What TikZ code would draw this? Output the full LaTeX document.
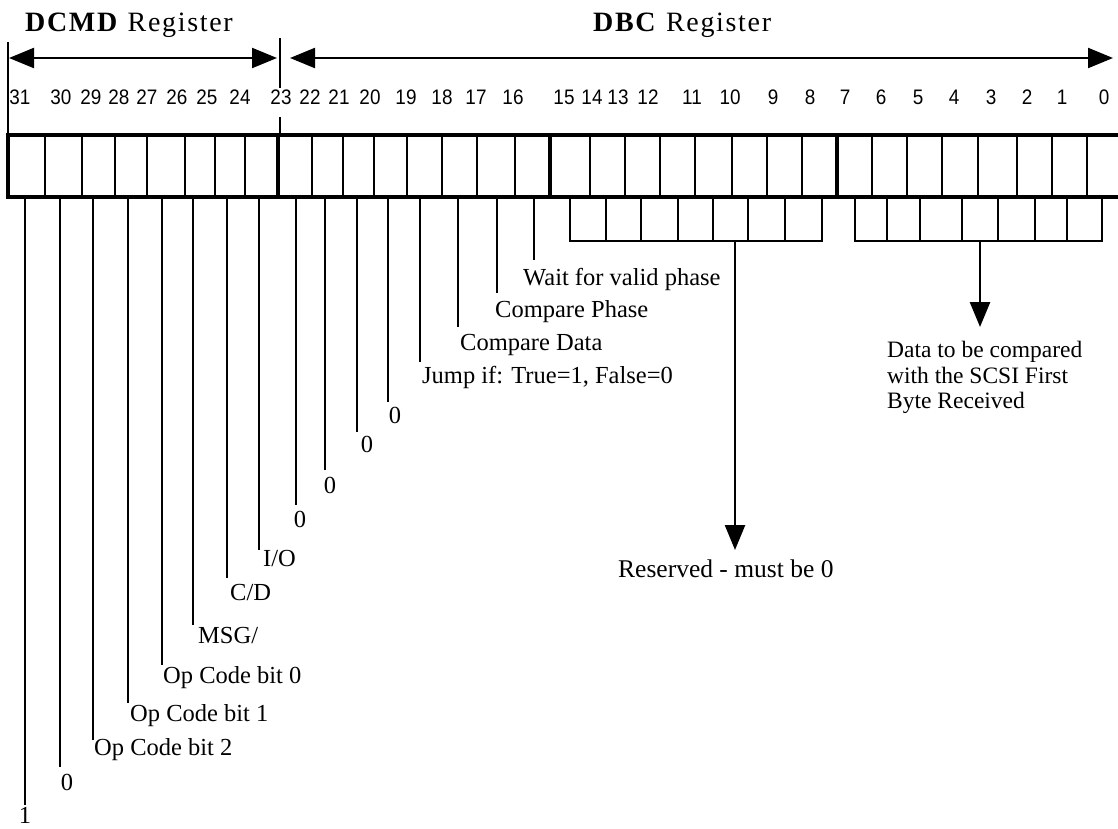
\documentclass[tikz,border=0pt]{standalone}
\usepackage{fontspec}
\setmainfont{Liberation Serif}
\newfontfamily\numfont[FakeStretch=0.9]{Liberation Sans}
\usetikzlibrary{arrows.meta}
\begin{document}
\begin{tikzpicture}[x=1pt,y=-1pt,
  cellline/.style={line width=2pt},
  heavyline/.style={line width=3.6pt},
  stub/.style={line width=2.6pt},
  lbl/.style={font=\fontsize{24.5}{26}\selectfont, inner sep=0pt, anchor=base west},
  zlbl/.style={font=\fontsize{24.5}{26}\selectfont, inner sep=0pt, anchor=base},
  num/.style={font=\numfont\fontsize{21}{22}\selectfont, inner sep=0pt, anchor=base},
  ttl/.style={font=\fontsize{28}{30}\selectfont\addfontfeatures{LetterSpace=6}, inner sep=0pt, anchor=base west},
  tip/.style={-{Triangle[length=25pt,width=20pt]}},
  twotip/.style={{Triangle[length=25pt,width=20pt]}-{Triangle[length=25pt,width=20pt]}},
]
\useasboundingbox (0,0) rectangle (1118,829);
\fill[white] (0,0) rectangle (1118,829);

% titles
\node[ttl] (tdcmd) at (25,32) {\textbf{DCMD} Register};
\node[ttl] (tdbc) at (593,32) {\textbf{DBC} Register};

% span arrows
\coordinate (a1l) at (9,58);
\coordinate (a1r) at (277,58);
\coordinate (a2l) at (290,58);
\coordinate (a2r) at (1113,58);
\draw[line width=2.2pt, twotip] (a1l) -- (a1r);
\draw[line width=2.2pt, twotip] (a2l) -- (a2r);
\coordinate (lt1) at (8,42);
\coordinate (lt2) at (8,135);
\draw[line width=2pt] (lt1) -- (lt2);
\coordinate (dv1) at (280,38);
\coordinate (dv2) at (280,88);
\coordinate (dv3) at (280,117);
\coordinate (dv4) at (280,135);
\draw[line width=2.6pt] (dv1) -- (dv2);
\draw[line width=2.6pt] (dv3) -- (dv4);

% bit numbers
\foreach \n/\x in {31/20,30/61,29/91,28/119,27/147,26/177,25/207,24/240,23/281,22/310,21/339,20/370,19/406,18/442,17/476,16/513,15/564,14/592,13/618,12/648,11/692,10/730,9/773,8/810,7/845,6/881,5/918,4/954,3/991,2/1027,1/1062,0/1104}
  \node[num] (n\n) at (\x,104.5) {\n};

% register cells
\foreach \x in {45,82,115,147,185,215,245,312,343,374,407,442,477,515,590,625,660,695,732,767,802,872,907,942,978,1017,1052,1087}
  \draw[cellline] (\x,135) -- (\x,197);
\foreach \x in {278,550,837}
  \draw[heavyline] (\x,135) -- (\x,197);
\coordinate (rtl) at (8,135);
\coordinate (rtr) at (1124,135);
\coordinate (rbl) at (8,197);
\coordinate (rbr) at (1124,197);
\draw[heavyline] (rtr) -- (rtl) -- (rbl) -- (rbr);

% lower small boxes
\coordinate (g1a) at (570,197);
\coordinate (g1b) at (570,241);
\coordinate (g1c) at (822,241);
\coordinate (g1d) at (822,197);
\draw[cellline] (g1a) -- (g1b) -- (g1c) -- (g1d);
\foreach \x in {606,641,678,713,748,785}
  \draw[cellline] (\x,197) -- (\x,241);
\coordinate (g2a) at (855,197);
\coordinate (g2b) at (855,241);
\coordinate (g2c) at (1102,241);
\coordinate (g2d) at (1102,197);
\draw[cellline] (g2a) -- (g2b) -- (g2c) -- (g2d);
\foreach \x in {887,920,962,998,1035,1067}
  \draw[cellline] (\x,197) -- (\x,241);

% group arrows
\coordinate (r1s) at (735,241);
\coordinate (r1e) at (735,550);
\draw[stub, tip] (r1s) -- (r1e);
\coordinate (r2s) at (980,241);
\coordinate (r2e) at (980,327);
\draw[stub, tip] (r2s) -- (r2e);

% stubs for bits 31..16
\foreach \n/\x/\e in {31/25/805,30/60/767,29/93/740,28/128/703,27/162/665,26/193/625,25/227/578,24/259/550,23/296/505,22/325/470,21/357/432,20/388/402,19/420/362,18/458/327,17/497/293,16/534/260}{
  \coordinate (t\n) at (\x,197);
  \coordinate (e\n) at (\x,\e);
  \draw[stub] (t\n) -- (e\n);
}

% labels
\node[lbl] (l16) at (523,285) {Wait for valid phase};
\node[lbl] (l17) at (495,317) {Compare Phase};
\node[lbl] (l18) at (460,350) {Compare Data};
\node[lbl] (l19) at (422,383) {Jump if: True=1, False=0};
\node[zlbl] (l20) at (395,423) {0};
\node[zlbl] (l21) at (367,452) {0};
\node[zlbl] (l22) at (330,493) {0};
\node[zlbl] (l23) at (300,527) {0};
\node[lbl] (l24) at (263,566) {I/O};
\node[lbl] (l25) at (230,600) {C/D};
\node[lbl] (l26) at (198,643) {MSG/};
\node[lbl] (l27) at (163,683) {Op Code bit 0};
\node[lbl] (l28) at (130,721) {Op Code bit 1};
\node[lbl] (l29) at (94,755) {Op Code bit 2};
\node[zlbl] (l30) at (67,790) {0};
\node[zlbl] (l31) at (25,823) {1};

\node[lbl, font=\fontsize{25.5}{27}\selectfont] (lres) at (618,577) {Reserved - must be 0};
\node[lbl, font=\fontsize{23.5}{25.5}\selectfont, align=left, anchor=north west] (ldata) at (887,341) {Data to be compared\\with the SCSI First\\Byte Received};
\end{tikzpicture}
\end{document}
